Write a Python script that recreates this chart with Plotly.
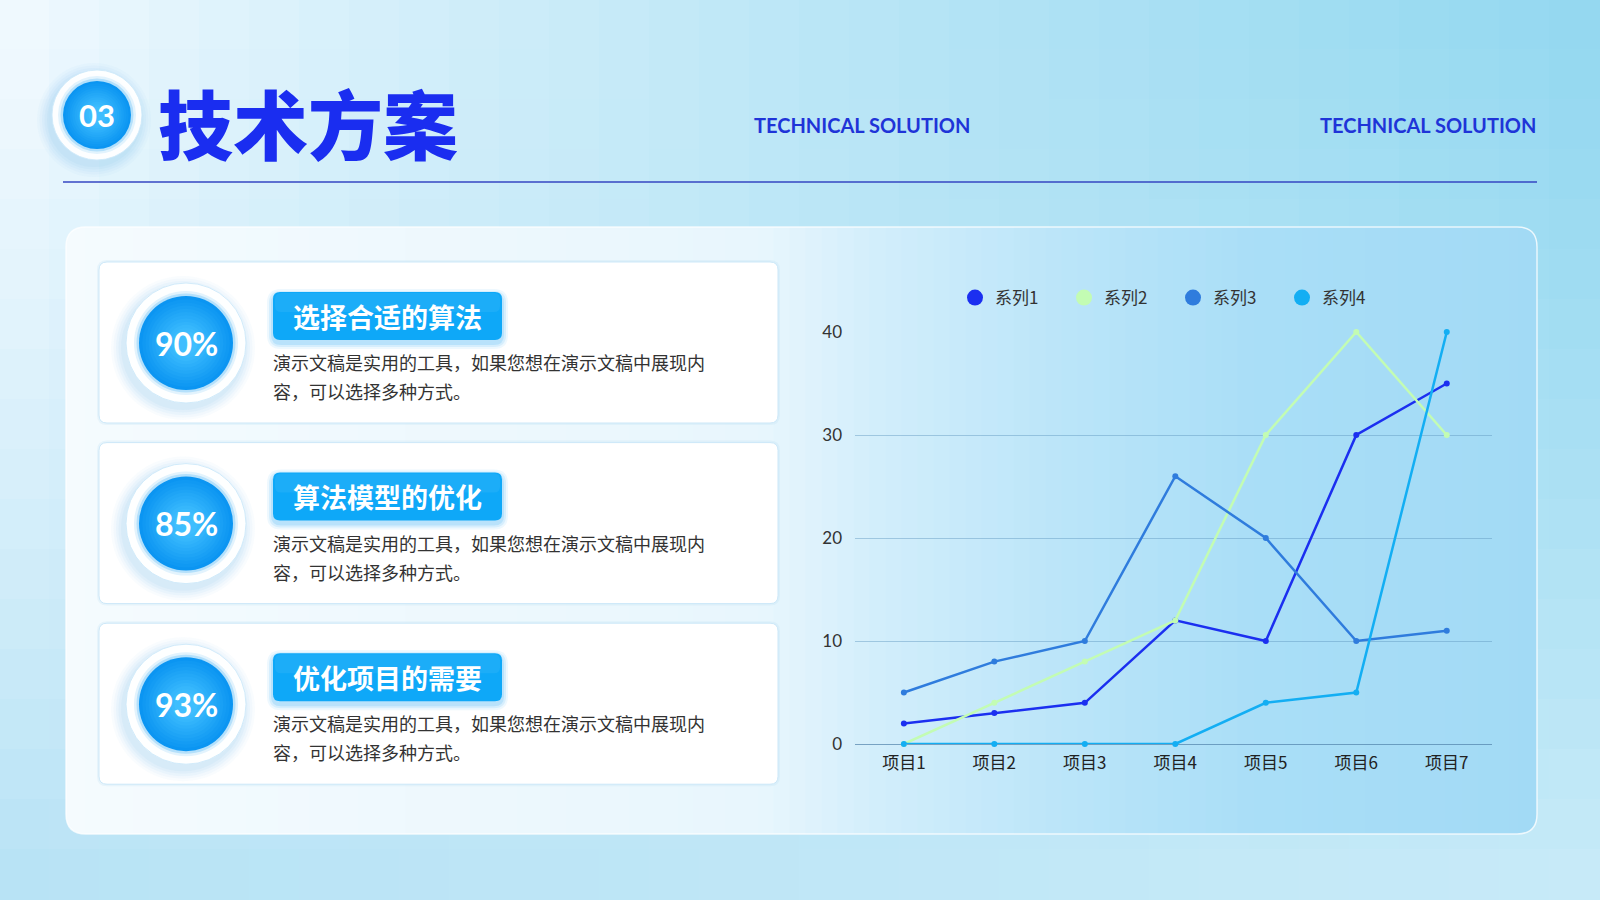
import plotly.graph_objects as go

# ── Data ──────────────────────────────────────────────────────────────────────
categories = ['项目1', '项目2', '项目3', '项目4', '项目5', '项目6', '项目7']
series_names = ['系列1', '系列2', '系列3', '系列4']
series_1 = [2, 3, 4, 12, 10, 30, 35]
series_2 = [0, 4, 8, 12, 30, 40, 30]
series_3 = [5, 8, 10, 26, 20, 10, 11]
series_4 = [0, 0, 0, 0, 4, 5, 40]
y_ticks = [0, 10, 20, 30, 40]

percents = ['90%', '85%', '93%']
headings = ['选择合适的算法', '算法模型的优化', '优化项目的需要']
body_line1 = '演示文稿是实用的工具，如果您想在演示文稿中展现内'
body_line2 = '容，可以选择多种方式。'

title_text = '技术方案'
section_no = '03'
subtitle = 'TECHNICAL SOLUTION'

series_colors = ['#1b2ff0', '#c3fcb3', '#2f7cdd', '#13aef3']

# ── Helpers (pixel -> paper) ─────────────────────────────────────────────────
W, H = 1600, 900


def px(x):
    return x / W


def py(y):
    return 1 - y / H


def hex_rgb(h):
    h = h.lstrip('#')
    return tuple(int(h[i:i + 2], 16) for i in (0, 2, 4))


def mix(c1, c2, t):
    return tuple(round(a + (b - a) * t) for a, b in zip(c1, c2))


def rgb(c, a=None):
    if a is None:
        return f'rgb({c[0]},{c[1]},{c[2]})'
    return f'rgba({c[0]},{c[1]},{c[2]},{a})'


def ramp(stops, x):
    for (p0, c0), (p1, c1) in zip(stops, stops[1:]):
        if x <= p1:
            t = (x - p0) / (p1 - p0) if p1 > p0 else 0
            return mix(hex_rgb(c0), hex_rgb(c1), max(0, min(1, t)))
    return hex_rgb(stops[-1][1])


def rounded(x0, y0, x1, y1, r):
    return (f"M{px(x0 + r)},{py(y0)} L{px(x1 - r)},{py(y0)} "
            f"Q{px(x1)},{py(y0)} {px(x1)},{py(y0 + r)} "
            f"L{px(x1)},{py(y1 - r)} Q{px(x1)},{py(y1)} {px(x1 - r)},{py(y1)} "
            f"L{px(x0 + r)},{py(y1)} Q{px(x0)},{py(y1)} {px(x0)},{py(y1 - r)} "
            f"L{px(x0)},{py(y0 + r)} Q{px(x0)},{py(y0)} {px(x0 + r)},{py(y0)} Z")


shapes = []


def add_rect(x0, y0, x1, y1, fill):
    shapes.append(dict(type='rect', xref='paper', yref='paper', layer='below',
                       x0=px(x0), x1=px(x1), y0=py(y1), y1=py(y0),
                       fillcolor=fill, line=dict(width=0)))


def add_path(path, fill, line_color=None, line_width=0):
    shapes.append(dict(type='path', xref='paper', yref='paper', layer='below',
                       path=path, fillcolor=fill,
                       line=dict(color=line_color or 'rgba(0,0,0,0)', width=line_width)))


def add_circle(cx, cy, r, fill, line_color=None, line_width=0):
    shapes.append(dict(type='circle', xref='paper', yref='paper', layer='below',
                       x0=px(cx - r), x1=px(cx + r), y0=py(cy + r), y1=py(cy - r),
                       fillcolor=fill,
                       line=dict(color=line_color or 'rgba(0,0,0,0)', width=line_width)))


# ── Background gradient ──────────────────────────────────────────────────────
tl, tr = hex_rgb('#f3faff'), hex_rgb('#93d8f0')
bl, br = hex_rgb('#b6e2f5'), hex_rgb('#c9ebf8')
nx, ny = 32, 18
cw, ch = W / nx, H / ny
for i in range(nx):
    for j in range(ny):
        u = (i + 0.5) / nx
        v = (j + 0.5) / ny
        top = mix(tl, tr, u ** 0.8)
        bot = mix(bl, br, u)
        c = mix(top, bot, v ** 1.3)
        add_rect(max(i * cw - 1, 0), max(j * ch - 1, 0),
                 min((i + 1) * cw + 1, W), min((j + 1) * ch + 1, H), rgb(c))

# ── Header ───────────────────────────────────────────────────────────────────
shapes.append(dict(type='line', xref='paper', yref='paper', layer='below',
                   x0=px(63), x1=px(1537), y0=py(182), y1=py(182),
                   line=dict(color='#3446c2', width=1.5)))


def bubble(cx, cy, r_white, r_blue):
    for k, a in enumerate([0.04, 0.05, 0.06, 0.07, 0.08]):
        add_circle(cx - 3, cy + 5, r_white + 12 - k * 2.5, f'rgba(110,185,230,{a})')
    add_circle(cx, cy, r_white, 'rgba(255,255,255,0.97)', 'rgba(205,233,250,0.9)', 1)
    add_circle(cx, cy, r_blue + 5, '#e2f3fd')
    add_circle(cx, cy, r_blue + 2.5, '#b4e0fb')
    outer, inner = hex_rgb('#0b95f2'), hex_rgb('#3fbefe')
    steps = 12
    for k in range(steps):
        t = k / (steps - 1)
        add_circle(cx, cy, r_blue * (1 - 0.75 * t), rgb(mix(outer, inner, t)))


bubble(97, 115, 45, 34)

# ── Main card ────────────────────────────────────────────────────────────────
card_x0, card_y0, card_x1, card_y1, card_r = 66, 227, 1537, 834, 20
card_stops = [(66, '#f5fbfe'), (760, '#e8f6fd'), (880, '#d2eefb'),
              (1060, '#bbe5f9'), (1260, '#a9def7'), (1537, '#a2daf5')]
add_path(rounded(card_x0, card_y0, card_x1, card_y1, card_r), rgb(ramp(card_stops, card_x0)))
add_path(rounded(card_x1 - 60, card_y0, card_x1, card_y1, card_r), rgb(ramp(card_stops, card_x1)))
x = card_x0 + card_r
while x < card_x1 - card_r:
    x2 = min(x + 16, card_x1 - card_r)
    add_rect(x - 0.5, card_y0, x2 + 0.5, card_y1, rgb(ramp(card_stops, (x + x2) / 2)))
    x = x2
add_path(rounded(card_x0, card_y0, card_x1, card_y1, card_r), 'rgba(0,0,0,0)',
         'rgba(255,255,255,0.75)', 1.5)

# ── Left boxes ───────────────────────────────────────────────────────────────
row_step = 180.6
annotations = []
for i in range(3):
    dy = i * row_step
    add_path(rounded(97, 260 + dy, 780, 425 + dy, 10), 'rgba(170,215,240,0.18)')
    add_path(rounded(99, 262 + dy, 778, 423 + dy, 8), '#ffffff', 'rgba(200,230,247,0.9)', 1)
    bubble(186, 343 + dy, 60, 47)
    # label tag with glow
    for k, a in enumerate([0.08, 0.12, 0.16]):
        g = 6 - k * 2
        add_path(rounded(273 - g, 292 - g + 3 + dy, 502 + g, 340 + g + 3 + dy, 8 + g),
                 f'rgba(40,170,245,{a})')
    add_path(rounded(273, 292 + dy, 502, 340 + dy, 7), '#0ea8f8')
    add_path(rounded(275, 293 + dy, 500, 312 + dy, 6), 'rgba(255,255,255,0.06)')

    annotations.append(dict(text=percents[i], x=px(186), y=py(343 + dy), xref='paper', yref='paper',
                            showarrow=False, xanchor='center', yanchor='middle',
                            font=dict(family='Lato', size=32, color='white', weight=700)))
    annotations.append(dict(text=headings[i], x=px(387), y=py(316 + dy), xref='paper', yref='paper',
                            showarrow=False, xanchor='center', yanchor='middle',
                            font=dict(family='Noto Sans CJK SC', size=27, color='white', weight=700)))
    annotations.append(dict(text=body_line1, x=px(271), y=py(362 + dy), xref='paper', yref='paper',
                            showarrow=False, xanchor='left', yanchor='middle',
                            font=dict(family='Noto Sans CJK SC', size=18, color='#333333')))
    annotations.append(dict(text=body_line2, x=px(271), y=py(391 + dy), xref='paper', yref='paper',
                            showarrow=False, xanchor='left', yanchor='middle',
                            font=dict(family='Noto Sans CJK SC', size=18, color='#333333')))

# ── Header text ──────────────────────────────────────────────────────────────
annotations += [
    dict(text=section_no, x=px(97), y=py(115), xref='paper', yref='paper', showarrow=False,
         xanchor='center', yanchor='middle',
         font=dict(family='Lato', size=31, color='white', weight=700)),
    dict(text=title_text, x=px(156), y=py(121), xref='paper', yref='paper', showarrow=False,
         xanchor='left', yanchor='middle',
         font=dict(family='Noto Sans CJK SC', size=75, color='#1a2df0', weight=900)),
    dict(text=subtitle, x=px(862), y=py(125), xref='paper', yref='paper', showarrow=False,
         xanchor='center', yanchor='middle',
         font=dict(family='Lato', size=20, color='#1f34d8', weight=700)),
    dict(text=subtitle, x=px(1538), y=py(125), xref='paper', yref='paper', showarrow=False,
         xanchor='right', yanchor='middle',
         font=dict(family='Lato', size=20, color='#1f34d8', weight=700)),
]

# ── Chart ────────────────────────────────────────────────────────────────────
fig = go.Figure()
all_series = [series_1, series_2, series_3, series_4]
for name, vals, col in zip(series_names, all_series, series_colors):
    fig.add_trace(go.Scatter(
        x=categories, y=vals, mode='lines+markers', name=name,
        line=dict(color=col, width=2.5), marker=dict(color=col, size=6),
        cliponaxis=False, showlegend=False, legendgroup=name,
    ))
for name, col in zip(series_names, series_colors):
    fig.add_trace(go.Scatter(
        x=[None], y=[None], mode='markers', name=name,
        marker=dict(color=col, size=18), legendgroup=name, showlegend=True,
    ))

fig.update_layout(
    width=W, height=H,
    margin=dict(l=0, r=0, t=0, b=0, autoexpand=False),
    paper_bgcolor='rgba(0,0,0,0)',
    plot_bgcolor='rgba(0,0,0,0)',
    shapes=shapes,
    annotations=annotations,
    showlegend=True,
    legend=dict(orientation='h', x=px(955), y=py(298), xanchor='left', yanchor='middle',
                bgcolor='rgba(0,0,0,0)', entrywidth=64, entrywidthmode='pixels',
                font=dict(family='Noto Sans CJK SC', size=17, color='#333333'),
                itemclick=False, itemdoubleclick=False),
    xaxis=dict(domain=[px(855), px(1492)], range=[-0.54, 6.5], type='category',
               showgrid=False, showline=False, zeroline=False, ticks='', automargin=False,
               tickfont=dict(family='Noto Sans CJK SC', size=17, color='#222222'),
               ticklabelstandoff=7),
    yaxis=dict(domain=[py(744), py(332)], range=[0, 40], tickvals=y_ticks,
               showgrid=True, gridcolor='rgba(95,150,190,0.45)', gridwidth=1,
               zeroline=True, zerolinecolor='rgba(80,130,170,0.7)', zerolinewidth=1,
               showline=False, ticks='', automargin=False,
               tickfont=dict(family='Lato', size=17, color='#333333'),
               ticklabelstandoff=12),
)

pin_page = ("document.body.style.margin='0';document.body.style.padding='0';"
            "var g=document.getElementById('{plot_id}');"
            "g.style.position='absolute';g.style.top='0';g.style.left='0';")
fig.write_html("out.html", config={'displayModeBar': False}, post_script=pin_page)
